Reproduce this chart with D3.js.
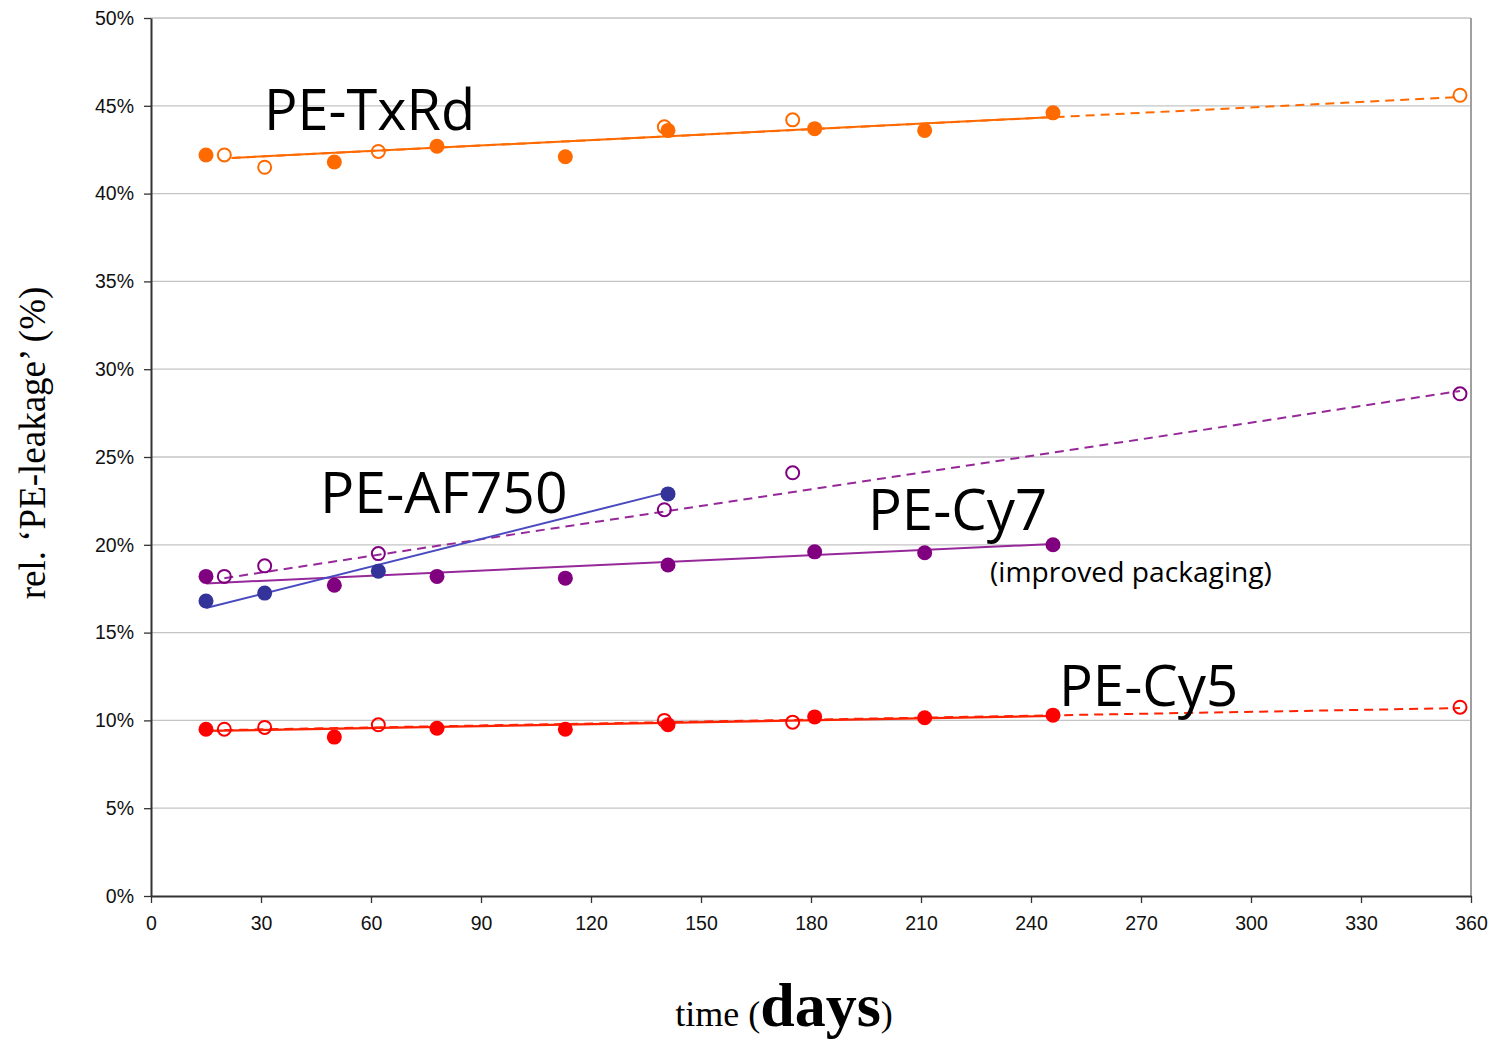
<!DOCTYPE html>
<html>
<head>
<meta charset="utf-8">
<script src="https://cdn.jsdelivr.net/npm/d3@7"></script>
<style>
  html, body { margin: 0; padding: 0; background: #fff; }
  svg { display: block; }
</style>
</head>
<body>
<svg id="chart" width="1496" height="1039"></svg>
<script>
// ---------- data ----------
const xTicks = [0, 30, 60, 90, 120, 150, 180, 210, 240, 270, 300, 330, 360];
const yTicks = [0, 5, 10, 15, 20, 25, 30, 35, 40, 45, 50];

// PE-TxRd
const txrdFilled = [[15, 42.2], [50, 41.8], [78, 42.7], [113, 42.1], [141, 43.6], [181, 43.7], [211, 43.6], [246, 44.6]];
const txrdOpen   = [[20, 42.2], [31, 41.5], [62, 42.4], [140, 43.8], [175, 44.2], [357, 45.6]];
const txrdTrendSolid  = [[22, 42.03], [246, 44.36]];
const txrdTrendDashed = [[22, 42.03], [357, 45.5]];

// PE-AF750
const af750Filled = [[15, 16.8], [31, 17.25], [62, 18.5], [141, 22.9]];
const af750TrendSolid = [[15, 16.4], [141, 23.0]];

// PE-Cy7 (filled = improved packaging)
const cy7Filled = [[15, 18.2], [50, 17.7], [78, 18.2], [113, 18.1], [141, 18.85], [181, 19.6], [211, 19.55], [246, 20.0]];
const cy7Open   = [[20, 18.2], [31, 18.8], [62, 19.5], [140, 22.0], [175, 24.1], [357, 28.6]];
const cy7TrendSolid  = [[15, 17.8], [246, 20.05]];
const cy7TrendDashed = [[20, 18.1], [357, 28.76]];

// PE-Cy5
const cy5Filled = [[15, 9.5], [50, 9.05], [78, 9.55], [113, 9.5], [141, 9.75], [181, 10.2], [211, 10.15], [246, 10.3]];
const cy5Open   = [[20, 9.5], [31, 9.6], [62, 9.75], [140, 10.0], [175, 9.9], [357, 10.75]];
const cy5TrendSolid  = [[15, 9.4], [246, 10.25]];
const cy5TrendDashed = [[20, 9.45], [357, 10.7]];

// ---------- layout ----------
const svg = d3.select("#chart");
const L = 151, T = 18, R = 1471, B = 896;
const x = d3.scaleLinear().domain([0, 360]).range([L, R]);
const y = d3.scaleLinear().domain([0, 50]).range([B, T]);

// gridlines
svg.append("g").selectAll("line").data(yTicks.filter(d => d > 0)).join("line")
  .attr("x1", L).attr("x2", R)
  .attr("y1", d => y(d)).attr("y2", d => y(d))
  .attr("stroke", "#c4c4c4").attr("stroke-width", 1.3);

// right border
svg.append("line").attr("x1", R).attr("x2", R).attr("y1", T).attr("y2", B)
  .attr("stroke", "#a0a0a0").attr("stroke-width", 2);

// axes
const yAxis = d3.axisLeft(y).tickValues(yTicks).tickFormat(d => d + "%").tickSize(7).tickSizeOuter(0);
const xAxis = d3.axisBottom(x).tickValues(xTicks).tickFormat(d3.format("d")).tickSize(7).tickSizeOuter(0);

const gy = svg.append("g").attr("transform", `translate(${L},0)`).call(yAxis);
const gx = svg.append("g").attr("transform", `translate(0,${B})`).call(xAxis);
[gy, gx].forEach(g => {
  g.select(".domain").attr("stroke", "#333").attr("stroke-width", 2);
  g.selectAll(".tick line").attr("stroke", "#333").attr("stroke-width", 1.3);
  g.selectAll(".tick text").attr("font-family", "Liberation Sans, Arial, sans-serif")
    .attr("font-size", 19.5).attr("fill", "#111");
});
gy.selectAll(".tick text").attr("x", -17);
gx.selectAll(".tick text").attr("y", 20);

// ---------- series ----------
const line = d3.line().x(d => x(d[0])).y(d => y(d[1]));
const plot = svg.append("g");

function trend(data, color, dashed, width) {
  plot.append("path").datum(data).attr("d", line)
    .attr("fill", "none").attr("stroke", color).attr("stroke-width", width || 2)
    .attr("stroke-dasharray", dashed ? "9,6" : null);
}
function filled(data, color) {
  plot.append("g").selectAll("circle").data(data).join("circle")
    .attr("cx", d => x(d[0])).attr("cy", d => y(d[1])).attr("r", 7.5)
    .attr("fill", color);
}
function open(data, color) {
  plot.append("g").selectAll("circle").data(data).join("circle")
    .attr("cx", d => x(d[0])).attr("cy", d => y(d[1])).attr("r", 6.5)
    .attr("fill", "none").attr("stroke", color).attr("stroke-width", 2);
}

const cOrange = "#ff6a00", cBlue = "#333399", cBlueLine = "#4a4ac0", cPurple = "#800080", cPurpleLine = "#96289a", cRed = "#ff0000", cRedLine = "#ff2200";

// TxRd
trend(txrdTrendDashed, cOrange, true, 2);
trend(txrdTrendSolid, cOrange, false, 2);
open(txrdOpen, cOrange);
filled(txrdFilled, cOrange);

// Cy7
trend(cy7TrendDashed, cPurpleLine, true, 2);
trend(cy7TrendSolid, cPurpleLine, false, 2);
open(cy7Open, cPurple);
filled(cy7Filled, cPurple);

// AF750
trend(af750TrendSolid, cBlueLine, false, 2);
filled(af750Filled, cBlue);

// Cy5
trend(cy5TrendDashed, cRedLine, true, 2);
trend(cy5TrendSolid, cRedLine, false, 2.2);
open(cy5Open, cRed);
filled(cy5Filled, cRed);

// ---------- labels ----------
const labFont = "'Open Sans', 'Noto Sans', sans-serif";
function label(t, px, py, size) {
  svg.append("text").attr("x", px).attr("y", py).text(t)
    .attr("font-family", labFont).attr("font-size", size).attr("fill", "#000");
}
label("PE-TxRd", 264, 130, 55.8);
label("PE-AF750", 320, 513, 57);
label("PE-Cy7", 868, 530, 56.3);
label("(improved packaging)", 990, 582, 28.2);
label("PE-Cy5", 1059, 706, 56.3);

// axis titles
svg.append("text")
  .attr("transform", "translate(45,443) rotate(-90)")
  .attr("text-anchor", "middle")
  .attr("font-family", "'Liberation Serif', 'Times New Roman', serif")
  .attr("font-size", 37).attr("fill", "#000")
  .text("rel. \u2018PE-leakage\u2019 (%)");

const xt = svg.append("text")
  .attr("x", 784).attr("y", 1026).attr("text-anchor", "middle")
  .attr("font-family", "'Liberation Serif', 'Times New Roman', serif")
  .attr("font-size", 36).attr("fill", "#000");
xt.append("tspan").text("time (");
xt.append("tspan").text("days").attr("font-weight", "bold").attr("font-size", 62);
xt.append("tspan").text(")");
</script>
</body>
</html>
